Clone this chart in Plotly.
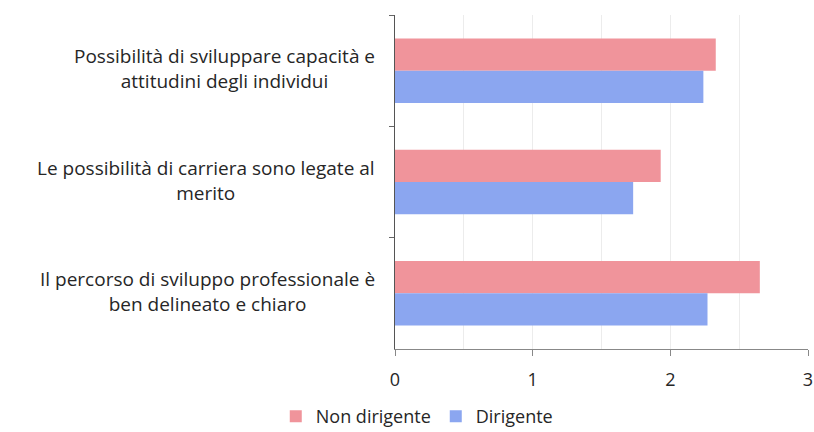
import plotly.graph_objects as go

# Survey statements (top to bottom) and average scores per group
categories = [
    "Possibilità di sviluppare capacità e<br>attitudini degli individui",
    "Le possibilità di carriera sono legate al<br>merito",
    "Il percorso di sviluppo professionale è<br>ben delineato e chiaro",
]
non_dirigente = [2.33, 1.93, 2.65]
dirigente = [2.24, 1.73, 2.27]
x_ticks = [0, 1, 2, 3]

PINK = "#F0949B"
BLUE = "#8BA6F0"
FONT = "'Open Sans', sans-serif"
TEXT = "#262626"

fig = go.Figure()
fig.add_trace(go.Bar(y=categories, x=non_dirigente, orientation="h",
                     name="Non dirigente", marker=dict(color=PINK, line_width=0)))
fig.add_trace(go.Bar(y=categories, x=dirigente, orientation="h",
                     name="Dirigente", marker=dict(color=BLUE, line_width=0)))

# Category labels: right-aligned block, lines centred
for cat in categories:
    fig.add_annotation(x=0, xref="paper", y=cat, yref="y", text=cat,
                       xanchor="right", align="center", xshift=-18, yshift=2,
                       showarrow=False,
                       font=dict(family=FONT, size=19, color=TEXT))

fig.update_layout(
    width=814, height=432,
    margin=dict(l=395, r=6, t=15, b=83, autoexpand=False),
    paper_bgcolor="white", plot_bgcolor="white",
    barmode="group", bargap=0.42, bargroupgap=0,
    font=dict(family=FONT, color=TEXT),
    legend=dict(orientation="h", xref="container", yref="container",
                x=0.512, y=0.036, xanchor="center", yanchor="middle",
                font=dict(family=FONT, size=18, color=TEXT),
                itemwidth=30, traceorder="normal"),
    showlegend=True,
)
fig.update_xaxes(
    range=[0, 3], tickvals=x_ticks, ticktext=[str(v) for v in x_ticks],
    ticks="outside", ticklen=6, tickcolor="#888888",
    ticklabelstandoff=8,
    showline=True, linecolor="#888888", linewidth=1,
    showgrid=True, gridcolor="#ECECEC", gridwidth=1,
    minor=dict(dtick=0.5, showgrid=True, gridcolor="#ECECEC", ticks=""),
    tickfont=dict(family=FONT, size=18, color=TEXT),
    zeroline=False,
)
fig.update_yaxes(
    autorange="reversed", showticklabels=False,
    ticks="outside", ticklen=5, tickson="boundaries", tickcolor="#666666",
    showline=True, linecolor="#555555", linewidth=1,
    showgrid=False, zeroline=False,
)

fig.write_html("out.html")
